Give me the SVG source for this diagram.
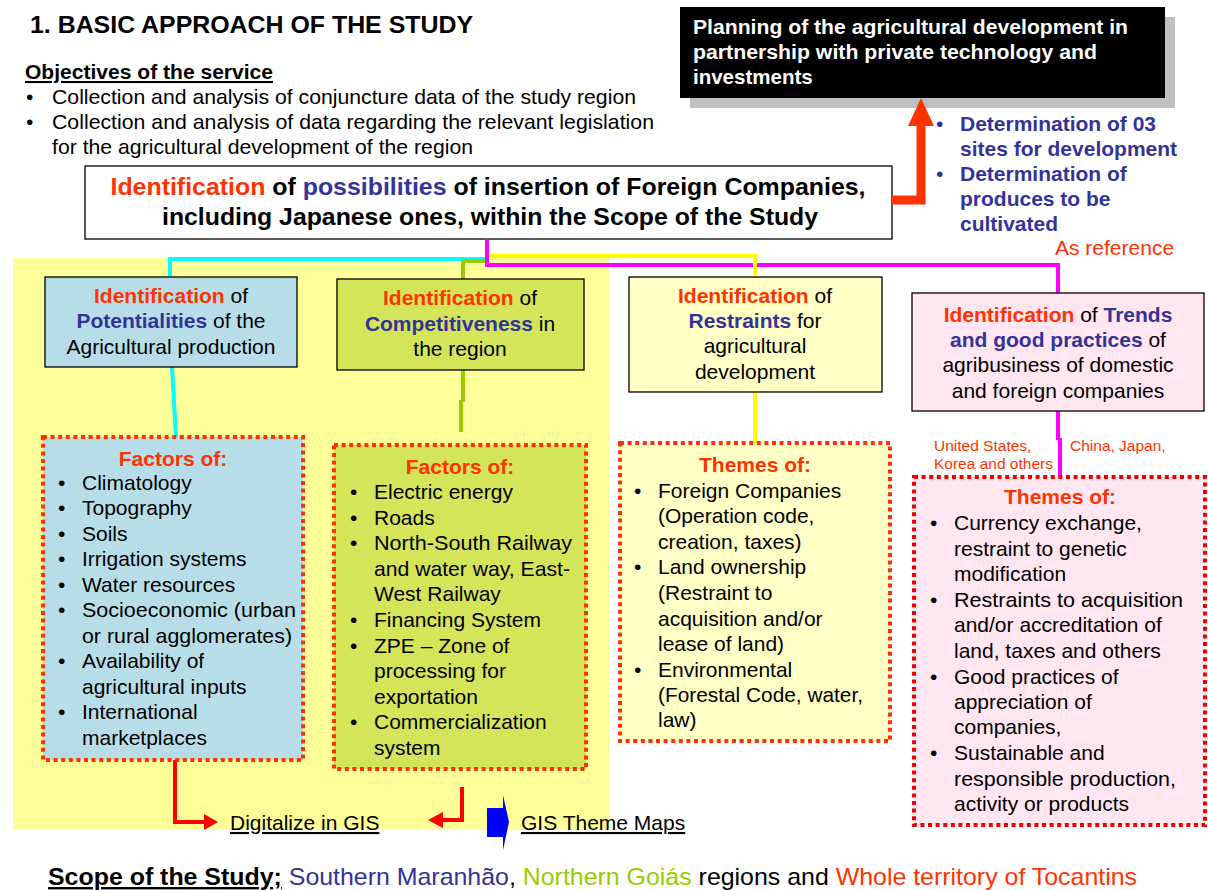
<svg xmlns="http://www.w3.org/2000/svg" width="1208" height="890" viewBox="0 0 1208 890">
<defs>
<style>
text{font-family:"Liberation Sans",Arial,sans-serif;font-size:21px;fill:#000}
.b{font-weight:bold}
.red{fill:#FF3300}
.blu{fill:#333399}
.grn{fill:#99CC00}
.wht{fill:#fff}
.c{text-anchor:middle}
.box{stroke:#000;stroke-width:1.3}
.dot{stroke:#FF3300;stroke-width:4;stroke-dasharray:4 3.6}
.conn{fill:none;stroke-width:4}
.u{text-decoration:underline}
</style>
</defs>
<rect width="1208" height="890" fill="#fff"/>
<rect x="13" y="258" width="596" height="572" fill="#FFFF99"/>

<g id="title">
<text x="30" y="33" class="b" style="font-size:24px" textLength="443" lengthAdjust="spacingAndGlyphs">1. BASIC APPROACH OF THE STUDY</text>
</g>
<g id="objectives">
<text x="25" y="79" class="b u" style="font-size:21px" textLength="248" lengthAdjust="spacingAndGlyphs">Objectives of the service</text>
<text x="26" y="104">•</text><text x="52" y="104" textLength="584" lengthAdjust="spacingAndGlyphs">Collection and analysis of conjuncture data of the study region</text>
<text x="26" y="129">•</text><text x="52" y="129" textLength="602" lengthAdjust="spacingAndGlyphs">Collection and analysis of data regarding the relevant legislation</text>
<text x="52" y="154" textLength="421" lengthAdjust="spacingAndGlyphs">for the agricultural development of the region</text>
</g>

<g id="planning">
<rect x="690" y="17" width="485" height="91" fill="#BFBFBF"/>
<rect x="680" y="7" width="485" height="91" fill="#000"/>
<text x="693" y="34" class="b wht" style="font-size:20.5px" textLength="435" lengthAdjust="spacingAndGlyphs">Planning of the agricultural  development in</text>
<text x="693" y="59" class="b wht" style="font-size:20.5px" textLength="404" lengthAdjust="spacingAndGlyphs">partnership with private technology and</text>
<text x="693" y="84" class="b wht" style="font-size:20.5px">investments</text>
</g>

<g id="determination">
<text x="936" y="131" class="blu">•</text><text x="960" y="131" class="b blu">Determination of 03</text>
<text x="960" y="156" class="b blu">sites for development</text>
<text x="936" y="181" class="blu">•</text><text x="960" y="181" class="b blu">Determination of</text>
<text x="960" y="206" class="b blu">produces to be</text>
<text x="960" y="231" class="b blu">cultivated</text>
<text x="1055" y="255" class="red">As reference</text>
</g>

<g id="main">
<rect x="85" y="166" width="807" height="73" fill="#fff" class="box"/>
<text x="488" y="195" class="c b" style="font-size:24.5px" textLength="755" lengthAdjust="spacingAndGlyphs"><tspan class="red">Identification</tspan> of <tspan class="blu">possibilities</tspan> of insertion of Foreign Companies,</text>
<text x="490" y="225" class="c b" style="font-size:24.5px" textLength="656" lengthAdjust="spacingAndGlyphs">including Japanese ones, within the Scope of the Study</text>
</g>

<g id="connectors">
<path class="conn" stroke="#00FFFF" d="M170 277V259H488"/>
<path class="conn" stroke="#00FFFF" d="M172 367L176 437"/>
<path class="conn" stroke="#99CC00" d="M463 279V261H488"/>
<path class="conn" stroke="#99CC00" d="M463 370V402M461 400V432"/>
<path class="conn" stroke="#FF00FF" d="M487 239V265H1058V293"/>
<path class="conn" stroke="#FFFF00" d="M489 256H755V277"/>
<path class="conn" stroke="#FFFF00" d="M755 392V443"/>
<path class="conn" stroke="#FF00FF" d="M1058 411V440M1060 438V477"/>
<path fill="none" stroke="#FF3300" stroke-width="9" d="M892 200H921V124"/>
<polygon fill="#FF3300" points="908,126 934,126 921,98"/>
<path fill="none" stroke="#FF0000" stroke-width="4" d="M175 760V822H206"/>
<polygon fill="#FF0000" points="204,814 218,822 204,830"/>
<path fill="none" stroke="#FF0000" stroke-width="4" d="M462 787V820H441"/>
<polygon fill="#FF0000" points="443,812 428,820 443,828"/>
<polygon fill="#0000FF" points="487,808 503,808 503,795 509,822 503,850 503,837 487,837"/>
</g>

<g id="potentialities">
<rect x="45" y="277" width="252" height="90" fill="#B7DEE8" class="box"/>
<text x="171" y="303" class="c"><tspan class="b red">Identification</tspan> of</text>
<text x="171" y="328" class="c"><tspan class="b blu">Potentialities</tspan> of the</text>
<text x="171" y="354" class="c">Agricultural production</text>
</g>
<g id="competitiveness">
<rect x="337" y="279" width="247" height="91" fill="#D4E55A" class="box"/>
<text x="460" y="305" class="c"><tspan class="b red">Identification</tspan> of</text>
<text x="460" y="331" class="c"><tspan class="b blu">Competitiveness</tspan> in</text>
<text x="460" y="356" class="c">the region</text>
</g>
<g id="restraints">
<rect x="629" y="277" width="253" height="115" fill="#FFFFC6" class="box"/>
<text x="755" y="303" class="c"><tspan class="b red">Identification</tspan> of</text>
<text x="755" y="328" class="c"><tspan class="b blu">Restraints</tspan> for</text>
<text x="755" y="353" class="c">agricultural</text>
<text x="755" y="379" class="c">development</text>
</g>
<g id="trends">
<rect x="912" y="293" width="292" height="118" fill="#FFE6F0" class="box"/>
<text x="1058" y="322" class="c"><tspan class="b red">Identification</tspan>  of <tspan class="b blu">Trends</tspan></text>
<text x="1058" y="347" class="c"><tspan class="b blu">and good practices</tspan> of</text>
<text x="1058" y="372" class="c">agribusiness of domestic</text>
<text x="1058" y="398" class="c">and foreign companies</text>
</g>

<g id="factors1">
<rect x="43" y="437" width="260" height="323" fill="#B7DEE8" class="dot"/>
<text x="173" y="466" class="c b red">Factors of:</text>
<text x="58" y="490">•</text><text x="82" y="490">Climatology</text>
<text x="58" y="515">•</text><text x="82" y="515">Topography</text>
<text x="58" y="541">•</text><text x="82" y="541">Soils</text>
<text x="58" y="566">•</text><text x="82" y="566">Irrigation systems</text>
<text x="58" y="592">•</text><text x="82" y="592">Water resources</text>
<text x="58" y="617">•</text><text x="82" y="617" textLength="214" lengthAdjust="spacingAndGlyphs">Socioeconomic (urban</text>
<text x="82" y="643" textLength="210" lengthAdjust="spacingAndGlyphs">or rural agglomerates)</text>
<text x="58" y="668">•</text><text x="82" y="668">Availability of</text>
<text x="82" y="694">agricultural inputs</text>
<text x="58" y="719">•</text><text x="82" y="719">International</text>
<text x="82" y="745">marketplaces</text>
</g>
<g id="factors2">
<rect x="334" y="445" width="252" height="324" fill="#D4E55A" class="dot"/>
<text x="460" y="474" class="c b red">Factors of:</text>
<text x="350" y="499">•</text><text x="374" y="499">Electric energy</text>
<text x="350" y="525">•</text><text x="374" y="525">Roads</text>
<text x="350" y="550">•</text><text x="374" y="550" textLength="198" lengthAdjust="spacingAndGlyphs">North-South Railway</text>
<text x="374" y="576" textLength="196" lengthAdjust="spacingAndGlyphs">and water way, East-</text>
<text x="374" y="601">West Railway</text>
<text x="350" y="627">•</text><text x="374" y="627">Financing System</text>
<text x="350" y="653">•</text><text x="374" y="653">ZPE – Zone of</text>
<text x="374" y="678">processing for</text>
<text x="374" y="704">exportation</text>
<text x="350" y="729">•</text><text x="374" y="729">Commercialization</text>
<text x="374" y="755">system</text>
</g>
<g id="themes1">
<rect x="620" y="443" width="270" height="298" fill="#FFFFC6" class="dot"/>
<text x="755" y="472" class="c b red">Themes of:</text>
<text x="634" y="498">•</text><text x="658" y="498">Foreign Companies</text>
<text x="658" y="523">(Operation code,</text>
<text x="658" y="549">creation, taxes)</text>
<text x="634" y="574">•</text><text x="658" y="574">Land ownership</text>
<text x="658" y="600">(Restraint to</text>
<text x="658" y="626">acquisition and/or</text>
<text x="658" y="651">lease of land)</text>
<text x="634" y="677">•</text><text x="658" y="677">Environmental</text>
<text x="658" y="702" textLength="205" lengthAdjust="spacingAndGlyphs">(Forestal Code, water,</text>
<text x="658" y="727">law)</text>
</g>
<g id="labels">
<text x="934" y="451" class="red" style="font-size:15.5px">United States,</text>
<text x="934" y="469" class="red" style="font-size:15.5px">Korea and others</text>
<text x="1070" y="451" class="red" style="font-size:15.5px">China, Japan,</text>
</g>
<g id="themes2">
<rect x="914" y="477" width="291" height="348" fill="#FFE6F0" stroke="#EE0000" stroke-width="4" stroke-dasharray="4 3.6"/>
<text x="1060" y="504" class="c b red">Themes of:</text>
<text x="930" y="530">•</text><text x="954" y="530">Currency exchange,</text>
<text x="954" y="556">restraint to genetic</text>
<text x="954" y="581">modification</text>
<text x="930" y="607">•</text><text x="954" y="607" textLength="229" lengthAdjust="spacingAndGlyphs">Restraints to acquisition</text>
<text x="954" y="632">and/or accreditation of</text>
<text x="954" y="658">land, taxes and others</text>
<text x="930" y="684">•</text><text x="954" y="684">Good practices  of</text>
<text x="954" y="709">appreciation of</text>
<text x="954" y="734">companies,</text>
<text x="930" y="760">•</text><text x="954" y="760">Sustainable and</text>
<text x="954" y="786" textLength="222" lengthAdjust="spacingAndGlyphs">responsible production,</text>
<text x="954" y="811">activity or products</text>
</g>

<g id="gis">
<text x="230" y="830" class="u">Digitalize in GIS</text>
<text x="521" y="830" class="u">GIS Theme Maps</text>
</g>

<g id="scope">
<text x="48" y="885" style="font-size:24px" textLength="1089" lengthAdjust="spacingAndGlyphs"><tspan class="b u">Scope of the Study;</tspan> <tspan class="blu">Southern Maranhão</tspan>, <tspan class="grn">Northern Goiás</tspan> regions and <tspan class="red">Whole territory of Tocantins</tspan></text>
</g>
</svg>
